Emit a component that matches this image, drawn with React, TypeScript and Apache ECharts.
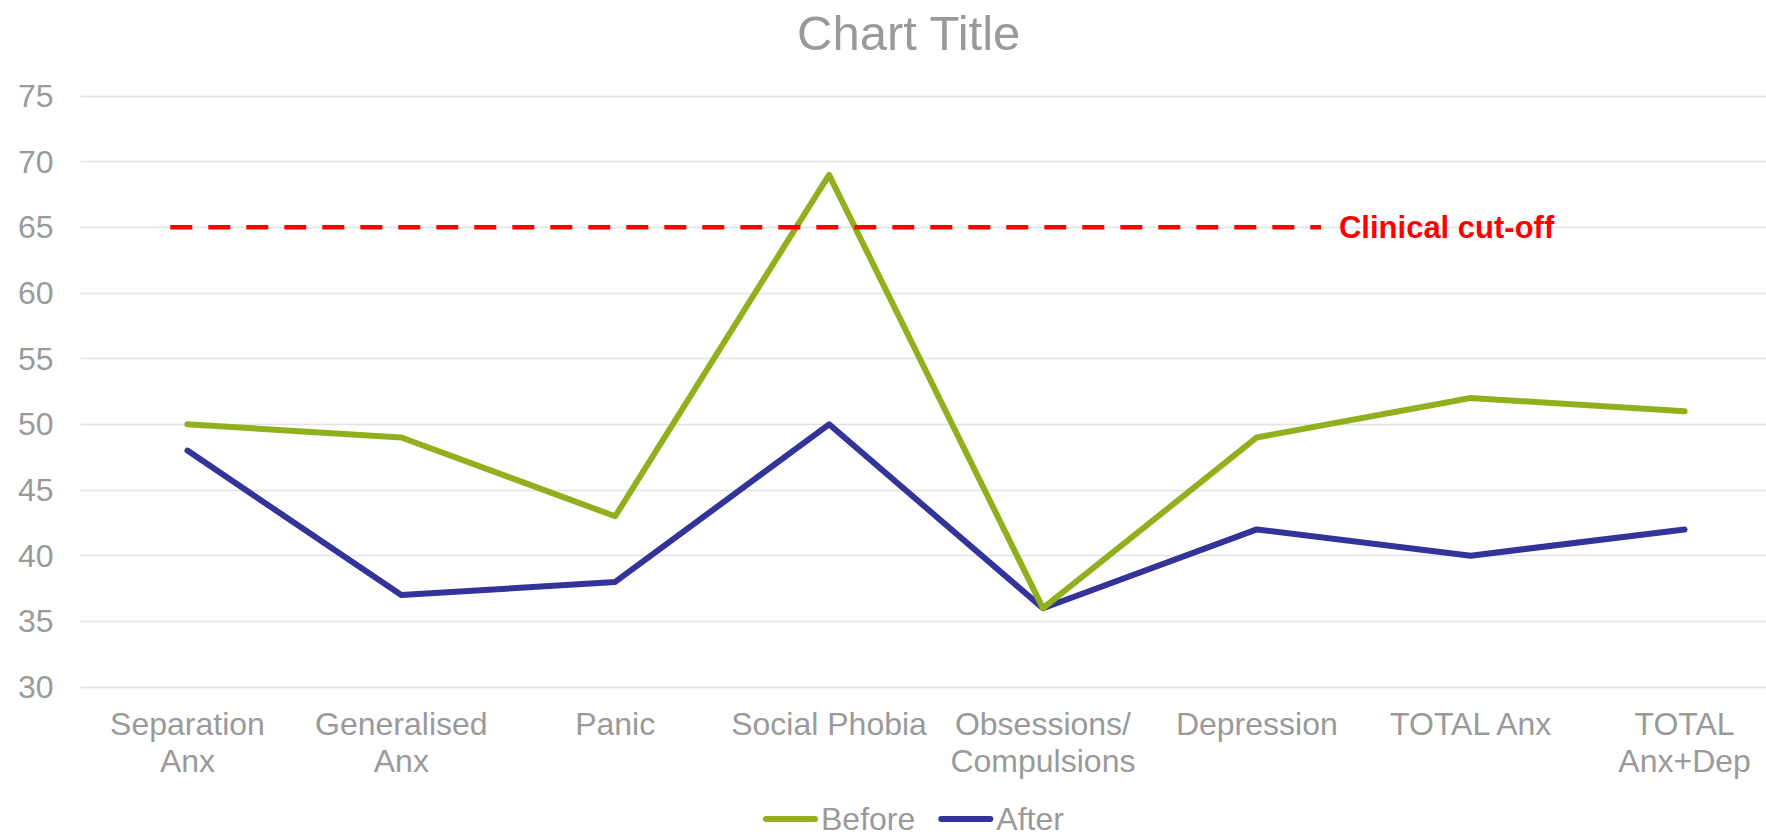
import React, { useEffect, useRef } from "react";
import * as echarts from "echarts";

const categories = [
  "Separation\nAnx",
  "Generalised\nAnx",
  "Panic",
  "Social Phobia",
  "Obsessions/\nCompulsions",
  "Depression",
  "TOTAL Anx",
  "TOTAL\nAnx+Dep",
];
const beforeValues = [50, 49, 43, 69, 36, 49, 52, 51];
const afterValues = [48, 37, 38, 50, 36, 42, 40, 42];
const cutoffValue = 65;
const cutoffStartEnd = [-0.08, 5.3];
const yTicks = { min: 30, max: 75, interval: 5 };

const FONT = "'Liberation Sans', Arial, sans-serif";
const GRAY = "#9a9a9a";
const LEGEND_ICON = "path://M3,0 H52 A3,3 0 0 1 52,6 H3 A3,3 0 0 1 3,0 Z";

export default function App() {
  const ref = useRef<HTMLDivElement>(null);
  useEffect(() => {
    if (!ref.current) return;
    const chart = echarts.init(ref.current, undefined, { renderer: "svg" });
    const cutoffData = cutoffStartEnd.map((x) => [x, cutoffValue]);
    chart.setOption({
      animation: false,
      backgroundColor: "#ffffff",
      textStyle: { fontFamily: FONT },
      title: {
        text: "Chart Title",
        left: 792,
        top: 4,
        padding: 5,
        textStyle: {
          fontFamily: FONT,
          fontSize: 49,
          lineHeight: 48,
          fontWeight: "normal",
          color: GRAY,
        },
      },
      legend: {
        data: ["Before", "After"],
        left: 763,
        top: 803,
        padding: 0,
        icon: LEGEND_ICON,
        itemWidth: 55,
        itemHeight: 6,
        itemGap: 23,
        textStyle: { fontFamily: FONT, fontSize: 32, lineHeight: 28, color: GRAY, padding: [0, 0, 0, -2] },
      },
      grid: {
        left: 80.5,
        width: 1711,
        top: 96,
        height: 591,
        containLabel: false,
        outerBoundsMode: "none",
      },
      xAxis: [
        {
          type: "category",
          data: categories,
          boundaryGap: true,
          axisLine: { show: false },
          axisTick: { show: false },
          splitLine: { show: false },
          axisLabel: {
            interval: 0,
            margin: 18,
            fontFamily: FONT,
            fontSize: 32,
            lineHeight: 37,
            color: GRAY,
            align: "center",
            verticalAlign: "top",
          },
        },
        {
          type: "value",
          show: false,
          min: -0.5,
          max: 7.5,
          splitLine: { show: false },
        },
      ],
      yAxis: {
        type: "value",
        min: yTicks.min,
        max: yTicks.max,
        interval: yTicks.interval,
        axisLine: { show: false },
        axisTick: { show: false },
        splitLine: { show: true, lineStyle: { color: "#e3e3e3", width: 1.3 } },
        axisLabel: { margin: 27, fontFamily: FONT, fontSize: 32, color: GRAY },
      },
      series: [
        {
          name: "Before",
          type: "line",
          data: beforeValues,
          symbol: "none",
          color: "#92B01E",
          lineStyle: { width: 6, color: "#92B01E", cap: "round", join: "round" },
          z: 3,
        },
        {
          name: "After",
          type: "line",
          data: afterValues,
          symbol: "none",
          color: "#333399",
          lineStyle: { width: 6, color: "#333399", cap: "round", join: "round" },
          z: 2,
        },
        {
          name: "Clinical cut-off",
          type: "line",
          xAxisIndex: 1,
          data: cutoffData,
          symbol: "none",
          color: "#ff0000",
          lineStyle: { width: 4.5, color: "#ff0000", type: [22, 16], cap: "butt" },
          z: 4,
          endLabel: {
            show: true,
            formatter: "Clinical cut-off",
            distance: 18,
            color: "#ff0000",
            fontFamily: FONT,
            fontSize: 31,
            fontWeight: "bold",
          },
        },
      ],
    });
    return () => chart.dispose();
  }, []);
  return (
    <div
      ref={ref}
      style={{ position: "absolute", left: 0, top: 0, width: 1766, height: 835 }}
    />
  );
}
